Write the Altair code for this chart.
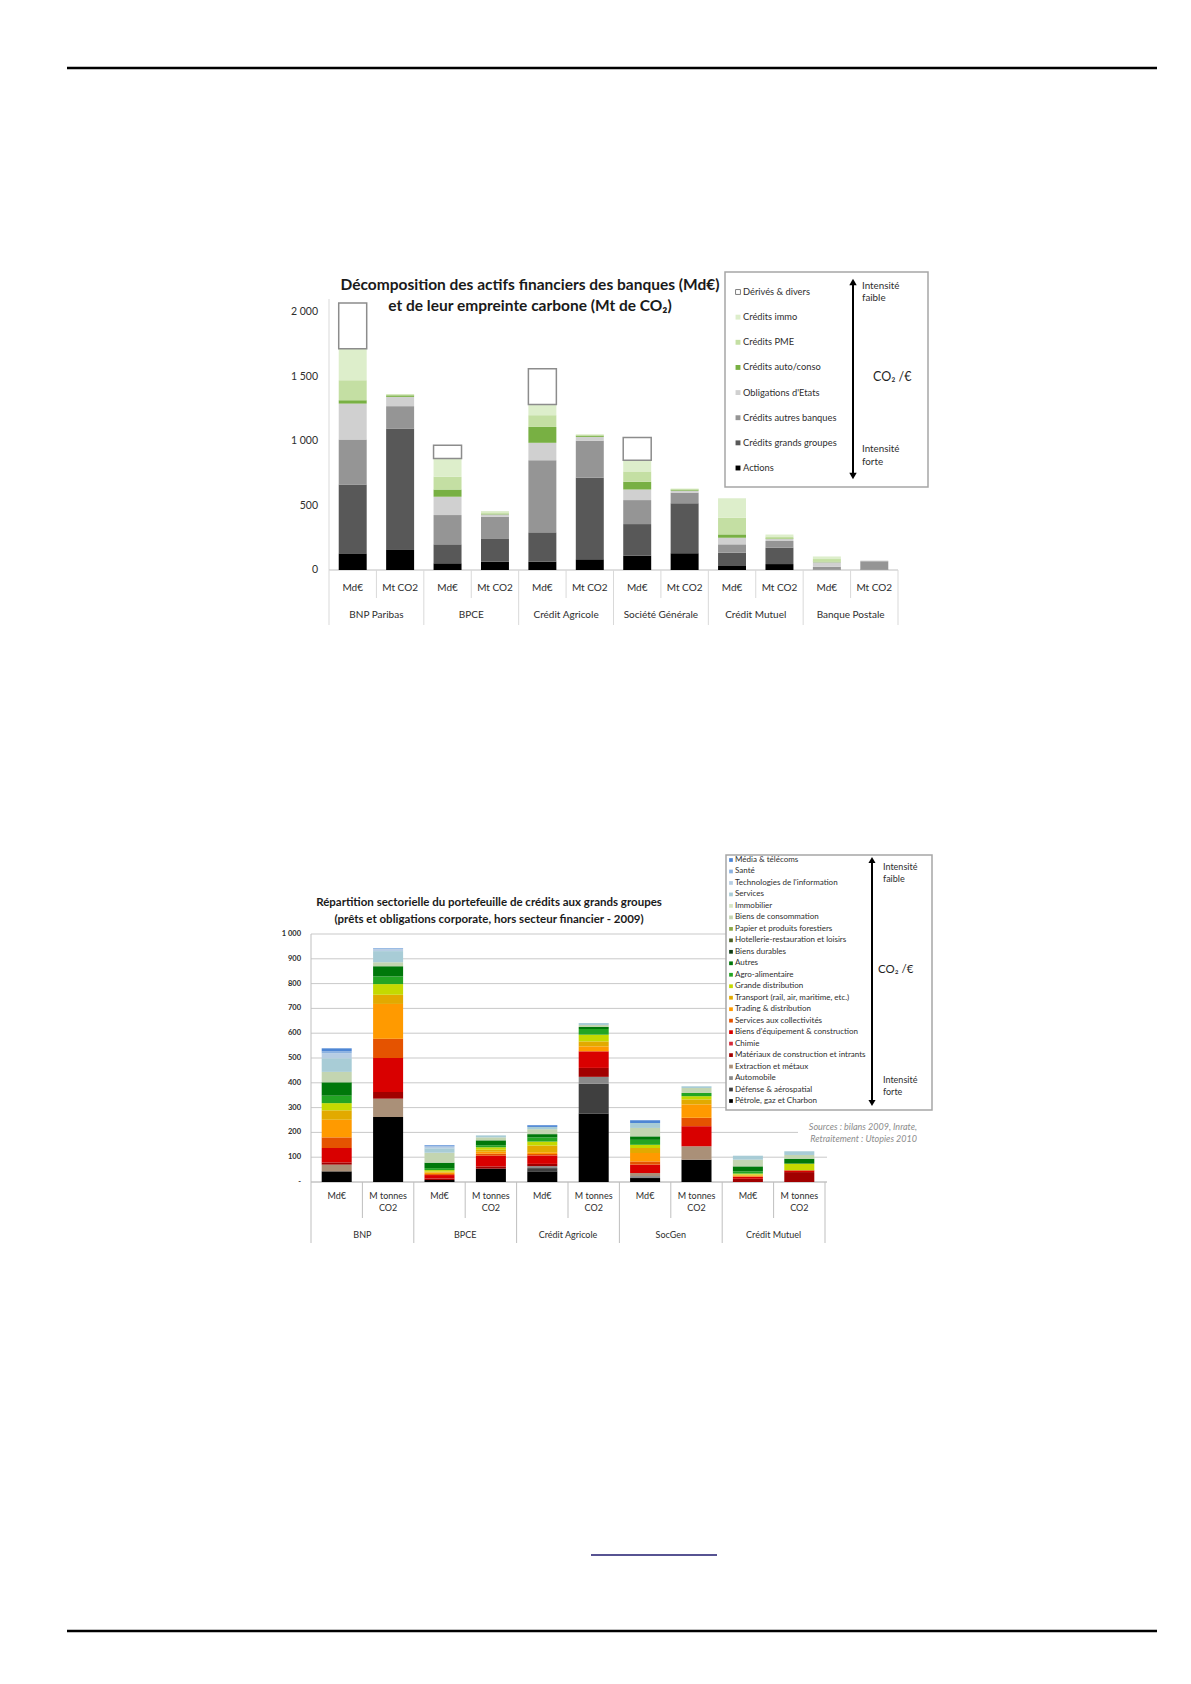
import altair as alt
import pandas as pd

FONT = "Lato"
M = 8  # html body margin


def X(v):
    return v - M


def Y(v):
    return v - M


one = pd.DataFrame({"k": [0]})

# ---------------- Chart 1 data ----------------
banks1 = ["BNP Paribas", "BPCE", "Crédit Agricole", "Société Générale", "Crédit Mutuel", "Banque Postale"]
measures1 = ["Md€", "Mt CO2"]
series1 = ["Actions", "Crédits grands groupes", "Crédits autres banques", "Obligations d'Etats",
           "Crédits auto/conso", "Crédits PME", "Crédits immo", "Dérivés & divers"]
colors1 = ["#000000", "#585858", "#959595", "#d0d0d0", "#78b043", "#c4dfa3", "#ddeecb", "#ffffff"]
# slots: BNP Md€, BNP Mt, BPCE Md€, BPCE Mt, CA Md€, CA Mt, SG Md€, SG Mt, CM Md€, CM Mt, BP Md€, BP Mt
actions1 = [129, 160, 52, 65, 65, 83, 111, 130, 31, 46, 0, 0]
grands_groupes1 = [534, 937, 147, 180, 227, 632, 245, 387, 103, 127, 3, 3]
autres_banques1 = [349, 173, 227, 168, 559, 286, 186, 83, 65, 52, 22, 65]
obligations1 = [278, 72, 142, 18, 135, 31, 82, 15, 51, 15, 35, 5]
auto_conso1 = [26, 12, 56, 6, 123, 10, 60, 8, 26, 5, 5, 0]
pme1 = [155, 8, 100, 10, 91, 8, 80, 7, 130, 15, 20, 0]
immo1 = [245, 0, 140, 10, 82, 0, 87, 0, 150, 15, 20, 0]
derives1 = [354, 0, 103, 0, 279, 0, 176, 0, 0, 0, 0, 0]
yticks1 = [0, 500, 1000, 1500, 2000]
ylabels1 = ["0", "500", "1 000", "1 500", "2 000"]

# ---------------- Chart 2 data ----------------
banks2 = ["BNP", "BPCE", "Crédit Agricole", "SocGen", "Crédit Mutuel"]
measures2 = ["Md€", "M tonnes\nCO2"]
sectors2 = ["Média & télécoms", "Santé", "Technologies de l'information", "Services", "Immobilier",
            "Biens de consommation", "Papier et produits forestiers", "Hotellerie-restauration et loisirs",
            "Biens durables", "Autres", "Agro-alimentaire", "Grande distribution",
            "Transport (rail, air, maritime, etc.)", "Trading & distribution", "Services aux collectivités",
            "Biens d'équipement & construction", "Chimie", "Matériaux de construction et intrants",
            "Extraction et métaux", "Automobile", "Défense & aérospatial", "Pétrole, gaz et Charbon"]
colors2 = ["#4e86d4", "#8cb2e0", "#b7cde3", "#a8ccd6", "#d6e5c4",
           "#c3d5b1", "#8da84a", "#4d6127",
           "#0f3d16", "#00780a", "#23a523", "#c4d900",
           "#e2aa00", "#ff9a00", "#e55300",
           "#d90000", "#d42a3a", "#a10000",
           "#aa9078", "#8a8a8a", "#3f3f3f", "#000000"]
# slots: BNP Md€, BNP Mt, BPCE Md€, BPCE Mt, CA Md€, CA Mt, SG Md€, SG Mt, CM Md€, CM Mt
values2 = {
    "Média & télécoms": [12, 0, 4, 0, 7, 0, 11, 0, 0, 0],
    "Santé": [8, 4, 0, 0, 0, 0, 0, 0, 0, 0],
    "Technologies de l'information": [20, 8, 8, 0, 0, 0, 0, 0, 0, 0],
    "Services": [55, 45, 18, 8, 9, 8, 20, 7, 16, 15],
    "Immobilier": [0, 0, 0, 0, 0, 0, 0, 0, 0, 0],
    "Biens de consommation": [42, 16, 40, 12, 20, 8, 34, 20, 27, 15],
    "Papier et produits forestiers": [0, 0, 0, 0, 0, 0, 0, 0, 0, 0],
    "Hotellerie-restauration et loisirs": [0, 0, 0, 0, 0, 0, 0, 0, 0, 0],
    "Biens durables": [0, 0, 0, 0, 0, 0, 0, 0, 0, 0],
    "Autres": [54, 41, 22, 20, 13, 8, 14, 0, 20, 20],
    "Agro-alimentaire": [30, 31, 8, 8, 17, 23, 20, 13, 9, 0],
    "Grande distribution": [29, 43, 6, 10, 16, 27, 13, 13, 4, 27],
    "Transport (rail, air, maritime, etc.)": [38, 37, 4, 8, 27, 20, 20, 20, 4, 0],
    "Trading & distribution": [71, 140, 6, 8, 7, 20, 34, 54, 4, 0],
    "Services aux collectivités": [43, 78, 4, 8, 6, 0, 13, 34, 0, 0],
    "Biens d'équipement & construction": [58, 137, 14, 43, 34, 67, 34, 81, 9, 7],
    "Chimie": [0, 0, 0, 0, 0, 0, 0, 0, 0, 0],
    "Matériaux de construction et intrants": [9, 27, 6, 9, 9, 36, 0, 0, 13, 40],
    "Extraction et métaux": [27, 74, 0, 0, 0, 0, 12, 54, 0, 0],
    "Automobile": [0, 0, 0, 0, 8, 28, 8, 0, 0, 0],
    "Défense & aérospatial": [0, 0, 0, 0, 13, 120, 0, 0, 0, 0],
    "Pétrole, gaz et Charbon": [43, 262, 8, 54, 43, 276, 16, 90, 0, 0],
}
yticks2 = [0, 100, 200, 300, 400, 500, 600, 700, 800, 900, 1000]
ylabels2 = ["-", "100", "200", "300", "400", "500", "600", "700", "800", "900", "1 000"]

# ---------------- tables ----------------
values1 = dict(zip(series1, [actions1, grands_groupes1, autres_banques1, obligations1,
                             auto_conso1, pme1, immo1, derives1]))
rows = []
for j in range(len(banks1) * 2):
    base = 0
    for s in series1:
        v = values1[s][j]
        if v > 0:
            rows.append(dict(series=s, y0=base, y1=base + v, x0=j + 0.205, x1=j + 0.795))
        base += v
df1 = pd.DataFrame(rows)

rows = []
stack2 = list(reversed(sectors2))
for j in range(len(banks2) * 2):
    base = 0
    for s in stack2:
        v = values2[s][j]
        if v > 0:
            rows.append(dict(sector=s, y0=base, y1=base + v, x0=j + 0.208, x1=j + 0.792))
        base += v
df2 = pd.DataFrame(rows)

xs1 = alt.Scale(domain=[0, 12], range=[X(329), X(898)], nice=False)
ys1 = alt.Scale(domain=[0, 2000], range=[Y(570), Y(312)], nice=False)
xs2 = alt.Scale(domain=[0, 10], range=[X(311), X(825)], nice=False)
ys2 = alt.Scale(domain=[0, 1000], range=[Y(1182), Y(934)], nice=False)
col1 = alt.Scale(domain=series1, range=colors1)
col2 = alt.Scale(domain=sectors2, range=colors2)

TXT = "#2e2e2e"


def note(text, x, y, size, align="left", weight="normal", color=TXT, style="normal", baseline="middle"):
    return alt.Chart(one).mark_text(text=text, fontSize=size, font=FONT, align=align, baseline=baseline,
                                    fontWeight=weight, color=color, fontStyle=style).encode(
        x=alt.value(X(x)), y=alt.value(Y(y)))


def hrule(x1, x2, y, color, w):
    return alt.Chart(one).mark_rule(color=color, strokeWidth=w).encode(
        x=alt.value(X(x1)), x2=alt.value(X(x2)), y=alt.value(Y(y)))


def vrule(x, y1, y2, color, w):
    return alt.Chart(one).mark_rule(color=color, strokeWidth=w).encode(
        x=alt.value(X(x)), y=alt.value(Y(y1)), y2=alt.value(Y(y2)))


def box(x1, x2, y1, y2):
    return alt.Chart(one).mark_rect(fill="white", stroke="#a6a6a6", strokeWidth=1.5).encode(
        x=alt.value(X(x1)), x2=alt.value(X(x2)), y=alt.value(Y(y1)), y2=alt.value(Y(y2)))


def arrow(x, y1, y2, size):
    line = vrule(x, y1 + 4, y2 - 4, "black", 2)
    up = alt.Chart(one).mark_point(shape="triangle-up", filled=True, color="black", size=size, opacity=1).encode(
        x=alt.value(X(x)), y=alt.value(Y(y1 + 3)))
    down = alt.Chart(one).mark_point(shape="triangle-down", filled=True, color="black", size=size, opacity=1).encode(
        x=alt.value(X(x)), y=alt.value(Y(y2 - 3)))
    return [line, up, down]


layers = []

# page rules
layers.append(hrule(67, 1157, 68, "black", 2.5))
layers.append(hrule(67, 1157, 1631, "black", 2.5))
layers.append(hrule(591, 717, 1555, "#1f1a6e", 1.5))

# ================= Chart 1 =================
layers.append(vrule(329, 299, 570, "#d9d9d9", 1))
layers.append(hrule(329, 898, 570, "#bfbfbf", 1))
seps1 = pd.DataFrame({"k": list(range(13))})
layers.append(alt.Chart(seps1[seps1.k % 2 == 0]).mark_rule(color="#d9d9d9", strokeWidth=1).encode(
    x=alt.X("k:Q", scale=xs1, axis=None), y=alt.value(Y(570)), y2=alt.value(Y(625))))
layers.append(alt.Chart(seps1[seps1.k % 2 == 1]).mark_rule(color="#d9d9d9", strokeWidth=1).encode(
    x=alt.X("k:Q", scale=xs1, axis=None), y=alt.value(Y(570)), y2=alt.value(Y(598))))

layers.append(alt.Chart(df1).mark_bar(stroke="#8c8c8c").encode(
    x=alt.X("x0:Q", scale=xs1, axis=None), x2="x1",
    y=alt.Y("y0:Q", scale=ys1, axis=None), y2="y1",
    color=alt.Color("series:N", scale=col1, legend=None),
    strokeWidth=alt.condition("datum.series === 'Dérivés & divers'", alt.value(1.5), alt.value(0))))

layers.append(alt.Chart(pd.DataFrame({"v": yticks1, "lab": ylabels1})).mark_text(
    align="right", baseline="middle", fontSize=10.5, font=FONT, color=TXT).encode(
    y=alt.Y("v:Q", scale=ys1, axis=None), x=alt.value(X(318)), text="lab:N"))

slots1 = pd.DataFrame({"c": [j + 0.5 for j in range(12)], "lab": measures1 * len(banks1)})
layers.append(alt.Chart(slots1).mark_text(baseline="middle", fontSize=10, font=FONT, color=TXT).encode(
    x=alt.X("c:Q", scale=xs1, axis=None), y=alt.value(Y(588)), text="lab:N"))
bk1 = pd.DataFrame({"c": [2 * i + 1 for i in range(len(banks1))], "lab": banks1})
layers.append(alt.Chart(bk1).mark_text(baseline="middle", fontSize=10, font=FONT, color=TXT).encode(
    x=alt.X("c:Q", scale=xs1, axis=None), y=alt.value(Y(615)), text="lab:N"))

layers.append(note("Décomposition des actifs financiers des banques (Md€)", 530, 285, 15.5, "center", "bold", "#1a1a1a"))
layers.append(note("et de leur empreinte carbone (Mt de CO₂)", 530, 306, 15.5, "center", "bold", "#1a1a1a"))

# legend 1
layers.append(box(725, 928, 272, 487))
leg1 = pd.DataFrame({"series": series1, "li": list(range(len(series1)))})
ly1 = alt.Scale(domain=[0, len(series1) - 1], range=[Y(468), Y(292)], nice=False)
layers.append(alt.Chart(leg1).mark_square(size=24, stroke="#7f7f7f", opacity=1).encode(
    x=alt.value(X(738)), y=alt.Y("li:Q", scale=ly1, axis=None),
    color=alt.Color("series:N", scale=col1, legend=None),
    strokeWidth=alt.condition("datum.series === 'Dérivés & divers'", alt.value(1), alt.value(0))))
layers.append(alt.Chart(leg1).mark_text(align="left", baseline="middle", fontSize=9.3, font=FONT, color=TXT).encode(
    x=alt.value(X(743)), y=alt.Y("li:Q", scale=ly1, axis=None), text="series:N"))
layers += arrow(853, 279, 479, 55)
layers.append(note("Intensité", 862, 286, 9.8))
layers.append(note("faible", 862, 298, 9.8))
layers.append(note("CO₂ /€", 873, 377, 12.5, color="#1f1f1f"))
layers.append(note("Intensité", 862, 449, 9.8))
layers.append(note("forte", 862, 462, 9.8))

# ================= Chart 2 =================
grid2 = pd.DataFrame({"v": yticks2[1:]})
layers.append(alt.Chart(grid2).mark_rule(color="#c9c9c9", strokeWidth=1).encode(
    y=alt.Y("v:Q", scale=ys2, axis=None), x=alt.value(X(311)), x2=alt.value(X(827))))
layers.append(hrule(311, 827, 1182, "#a6a6a6", 1))
layers.append(vrule(311, 934, 1182, "#bfbfbf", 1))
seps2 = pd.DataFrame({"k": list(range(11))})
layers.append(alt.Chart(seps2[seps2.k % 2 == 0]).mark_rule(color="#bfbfbf", strokeWidth=1).encode(
    x=alt.X("k:Q", scale=xs2, axis=None), y=alt.value(Y(1182)), y2=alt.value(Y(1243))))
layers.append(alt.Chart(seps2[seps2.k % 2 == 1]).mark_rule(color="#bfbfbf", strokeWidth=1).encode(
    x=alt.X("k:Q", scale=xs2, axis=None), y=alt.value(Y(1182)), y2=alt.value(Y(1218))))

layers.append(alt.Chart(df2).mark_bar().encode(
    x=alt.X("x0:Q", scale=xs2, axis=None), x2="x1",
    y=alt.Y("y0:Q", scale=ys2, axis=None), y2="y1",
    color=alt.Color("sector:N", scale=col2, legend=None)))

layers.append(alt.Chart(pd.DataFrame({"v": yticks2, "lab": ylabels2})).mark_text(
    align="right", baseline="middle", fontSize=7.5, fontWeight="bold", font=FONT, color=TXT).encode(
    y=alt.Y("v:Q", scale=ys2, axis=None), x=alt.value(X(301)), text="lab:N"))

slots2 = pd.DataFrame({"c": [j + 0.5 for j in range(10)], "lab": measures2 * len(banks2)})
layers.append(alt.Chart(slots2).mark_text(baseline="top", fontSize=9, font=FONT, color=TXT,
                                          lineBreak="\n", lineHeight=12).encode(
    x=alt.X("c:Q", scale=xs2, axis=None), y=alt.value(Y(1192)), text="lab:N"))
bk2 = pd.DataFrame({"c": [2 * i + 1 for i in range(len(banks2))], "lab": banks2})
layers.append(alt.Chart(bk2).mark_text(baseline="middle", fontSize=9, font=FONT, color=TXT).encode(
    x=alt.X("c:Q", scale=xs2, axis=None), y=alt.value(Y(1235)), text="lab:N"))

layers.append(note("Répartition sectorielle du portefeuille de crédits aux grands groupes", 489, 903, 11.5, "center", "bold", "#1a1a1a"))
layers.append(note("(prêts et obligations corporate, hors secteur financier - 2009)", 489, 920, 11.5, "center", "bold", "#1a1a1a"))

# legend 2
layers.append(box(726, 932, 855, 1110))
leg2 = pd.DataFrame({"sector": sectors2, "li": list(range(len(sectors2)))})
ly2 = alt.Scale(domain=[0, len(sectors2) - 1], range=[Y(860), Y(1101)], nice=False)
layers.append(alt.Chart(leg2).mark_square(size=14, opacity=1).encode(
    x=alt.value(X(731)), y=alt.Y("li:Q", scale=ly2, axis=None),
    color=alt.Color("sector:N", scale=col2, legend=None)))
layers.append(alt.Chart(leg2).mark_text(align="left", baseline="middle", fontSize=8, font=FONT, color=TXT).encode(
    x=alt.value(X(735)), y=alt.Y("li:Q", scale=ly2, axis=None), text="sector:N"))
layers += arrow(872, 857, 1106, 50)
layers.append(note("Intensité", 883, 867, 9))
layers.append(note("faible", 883, 879, 9))
layers.append(note("CO₂ /€", 878, 970, 11.5, color="#1f1f1f"))
layers.append(note("Intensité", 883, 1080, 9))
layers.append(note("forte", 883, 1092, 9))

# sources
layers.append(alt.Chart(one).mark_rect(fill="white").encode(
    x=alt.value(X(798)), x2=alt.value(X(920)), y=alt.value(Y(1121)), y2=alt.value(Y(1144))))
layers.append(note("Sources : bilans 2009, Inrate,", 917, 1127, 9, "right", color="#8c8c8c", style="italic"))
layers.append(note("Retraitement : Utopies 2010", 917, 1139, 9, "right", color="#8c8c8c", style="italic"))

chart = alt.layer(*layers).resolve_scale(
    x="independent", y="independent", color="independent"
).properties(
    width=1175, height=1668, padding=0, autosize=alt.AutoSizeParams(type="none")
).configure_view(stroke=None)

chart.save("out.html", embed_options={"renderer": "svg", "actions": False})
